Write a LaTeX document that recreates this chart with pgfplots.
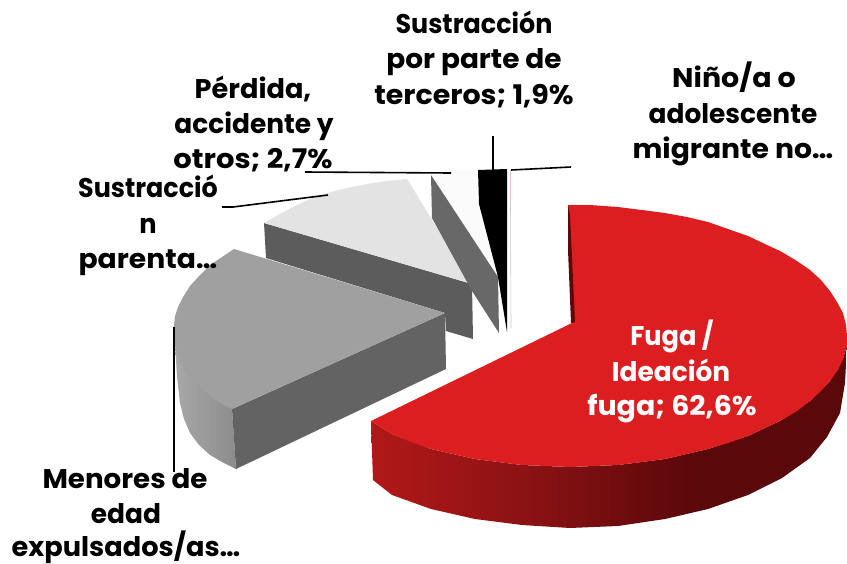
\documentclass[border=0pt]{standalone}
\usepackage{pgfplots}
\pgfplotsset{compat=1.18}
\usepackage{fontspec}
\usepackage{graphicx}
\setmainfont{Poppins}[FakeStretch=0.95]
\definecolor{redtop}{HTML}{DD1E20}
\newcommand{\ls}[2]{\scalebox{#1}[1]{#2}}
\pgfdeclarehorizontalshading{redside}{100bp}{
  color(0bp)=(rgb,255:red,178;green,24;blue,24);
  color(25bp)=(rgb,255:red,178;green,24;blue,24);
  color(41bp)=(rgb,255:red,140;green,18;blue,20);
  color(59bp)=(rgb,255:red,90;green,8;blue,10);
  color(100bp)=(rgb,255:red,90;green,8;blue,10)}
\pgfdeclarehorizontalshading{grayside}{100bp}{
  color(0bp)=(rgb,255:red,168;green,168;blue,168);
  color(25bp)=(rgb,255:red,168;green,168;blue,168);
  color(75bp)=(rgb,255:red,138;green,138;blue,138);
  color(100bp)=(rgb,255:red,138;green,138;blue,138)}
\tikzset{
  lab/.style={font=\fontsize{27}{27}\selectfont\bfseries, anchor=base, inner sep=0pt, text=black},
  lead/.style={draw=black, line width=1.6pt}
}
\begin{document}
\begin{tikzpicture}
\useasboundingbox (0,0) rectangle (847pt,563pt);
\begin{axis}[
  at={(0,0)}, anchor=south west,
  scale only axis, width=847pt, height=563pt,
  xmin=0, xmax=847, ymin=0, ymax=563, y dir=reverse,
  hide axis, clip=false,
  every axis plot/.append style={no markers, draw=none, line width=0pt}
]
% light slice side and top
\addplot[fill={rgb,255:red,92;green,92;blue,92}] coordinates {(264,223)(472,284)(473,339)(446,331)(445,313)(266,258)};
\addplot[fill={rgb,255:red,227;green,227;blue,227}] coordinates {(472,284)(407,179)(387,181)(367,184)(347,188)(327,193)(310,199)(293,207)(278,215)(264,223)};
% pale slice
\addplot[fill={rgb,255:red,251;green,251;blue,251}] coordinates {(431,175)(450,171)(472,170)(479,204)(498,277)};
\addplot[fill={rgb,255:red,104;green,104;blue,104}] coordinates {(431,175)(498,277)(499,333)(472,291)(432,218)};
% black slice
\addplot[fill=black] coordinates {(478,170)(507,169)(507,332)(498,277)(479,204)};
% thin slice
\addplot[draw={rgb,255:red,240;green,190;blue,200}, line width=0.8pt] coordinates {(510.5,170)(510.5,200)};
\addplot[draw={rgb,255:red,200;green,200;blue,200}, line width=0.6pt] coordinates {(510.5,200)(511,328)};
% gray slice
\addplot[shading=grayside] coordinates {(175,343)(240,340)(232,409)(236,469)(222,462)(210,455)(199,445)(190,433)(184,419)(180,403)(177,377)};
\addplot[fill={rgb,255:red,99;green,99;blue,99}] coordinates {(232,409)(445,313)(446,369)(236,469)};
\addplot[fill={rgb,255:red,160;green,160;blue,160}] coordinates {(445,313)(234,249)(222,257)(210,265)(200,275)(190,286)(183,297)(178,307)(175,316)(174,325)(174,334)(175,343)(177,353)(180,363)(188,373)(197,383)(205,391)(213,398)(222,404)(232,409)};
% red slice side
\addplot[shading=redside] coordinates {(371,421)(392,434)(431,449)(475,459)(522,465)(570,467)(618,465)(665,459)(708,449)(748,436)(782,420)(810,401)(830,381)(843,359)(847,345)(845,383)(840,413)(827,437)(810,458)(782,478)(748,495)(708,509)(665,519)(618,526)(570,528)(522,525)(475,519)(431,509)(392,495)(373,480)};
% red slice top
\addplot[fill=redtop] coordinates {(568,205)(590,205)(618,207)(642,210)(665,213)(687,217)(708,222)(728,229)(748,236)(765,244)(782,252)(797,261)(810,270)(821,280)(830,291)(837,302)(843,313)(846,325)(847,336)(847,345)(843,359)(838,370)(830,381)(821,391)(810,401)(797,411)(782,420)(765,428)(748,436)(728,443)(708,449)(687,454)(665,459)(642,462)(618,465)(594,466)(570,467)(546,466)(522,465)(498,462)(475,459)(453,454)(431,449)(411,442)(392,434)(371,421)(572,323)};
\addplot[fill={rgb,255:red,95;green,8;blue,10}] coordinates {(568,205)(568,250)(571,323)(575,322)(570,215)};
% leader lines
\addplot[lead] coordinates {(493,136)(493,170)};
\addplot[lead] coordinates {(511,170)(571,167)};
\addplot[lead] coordinates {(305,172)(451,173)};
\addplot[lead] coordinates {(222,207)(233,207)(328,195)};
\addplot[lead] coordinates {(174,327)(174,472)};
% labels
\node[lab] at (axis cs:474,33) {\ls{0.99}{Sustracción}};
\node[lab] at (axis cs:474,68) {\ls{1.09}{por parte de}};
\node[lab] at (axis cs:474,104) {\ls{1.11}{terceros; 1,9\%}};
\node[lab] at (axis cs:734,87) {\ls{1.11}{Niño/a o}};
\node[lab] at (axis cs:733,123) {\ls{1.03}{adolescente}};
\node[lab] at (axis cs:733,158) {\ls{1.10}{migrante no…}};
\node[lab] at (axis cs:253,98) {\ls{1.06}{Pérdida,}};
\node[lab] at (axis cs:254,133) {\ls{1.03}{accidente y}};
\node[lab] at (axis cs:253,168) {\ls{1.13}{otros; 2,7\%}};
\node[lab] at (axis cs:148,197) {\ls{0.99}{Sustracció}};
\node[lab] at (axis cs:148,233) {n};
\node[lab] at (axis cs:148,268) {\ls{1.10}{parenta…}};
\node[lab] at (axis cs:125,488) {\ls{1.08}{Menores de}};
\node[lab] at (axis cs:126,523) {\ls{1.03}{edad}};
\node[lab] at (axis cs:126,556.5) {\ls{1.06}{expulsados/as…}};
\node[lab,text=white] at (axis cs:672,345) {Fuga /};
\node[lab,text=white] at (axis cs:671,381) {\ls{1.03}{Ideación}};
\node[lab,text=white] at (axis cs:672,415) {\ls{1.11}{fuga; 62,6\%}};
\end{axis}
\end{tikzpicture}
\end{document}
